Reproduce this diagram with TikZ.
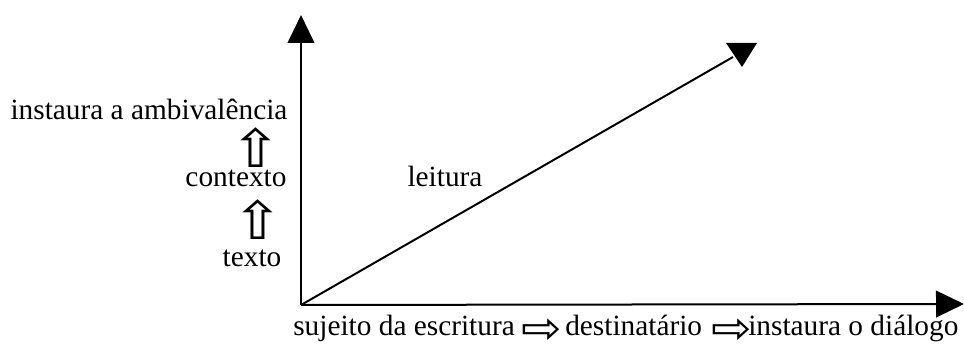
\documentclass[tikz,border=0pt]{standalone}
\usepackage{fontspec}
\setmainfont{Liberation Serif}
\newfontfamily\setafont{DejaVu Sans}
\usetikzlibrary{arrows.meta, positioning}
\tikzset{> = { Triangle[length = 21pt, width = 20pt] }}
\newcommand{\setadir}{\scalebox{1.65}[1.5]{⇨}}
\newcommand{\setacima}{\scalebox{1.9}[1.65]{⇧}}

\begin{document}
\begin{tikzpicture}[x = 0.75pt, y = -0.75pt,
		txt/.style = {font = \fontsize{22}{26}\selectfont, inner sep = 0pt},
		cima/.style = {font = \setafont\fontsize{24}{24}\selectfont, inner sep = 0pt},
		seta/.style = {font = \setafont\fontsize{22}{22}\selectfont, inner sep = 0pt},
		eixo/.style = {line width = 1.5pt}]
		\useasboundingbox (0, 0) rectangle (964, 345);

		\coordinate (O) at (301, 305);
		\coordinate (ytip) at (301, 15);
		\coordinate (xtip) at (964, 304);
		\coordinate (lend) at (733, 57);

		\draw [eixo, ->] (O) -- (ytip);
		\draw [eixo, ->] (O) -- (xtip);
		\draw [eixo] (O) -- (lend);
		\fill (726, 43) -- (757, 43) -- (742, 67) -- cycle;

		\node [txt, anchor = base] (ambiv) at (149, 120) {instaura a ambivalência};
		\node [cima] (up1) at (256, 148) {\setacima};
		\node [txt, anchor = base] (contexto) at (236, 187) {contexto};
		\node [cima] (up2) at (258, 220) {\setacima};
		\node [txt, anchor = base] (texto) at (252, 267) {texto};
		\node [txt, anchor = base] (leitura) at (445, 187) {leitura};

		\node [txt, anchor = base west] (sujeito) at (293, 335) {sujeito da escritura};
		\node [seta] (seta1) at (542, 331) {\setadir};
		\node [txt, anchor = base west] (dest) at (565, 335) {destinatário};
		\node [seta] (seta2) at (732, 331) {\setadir};
		\node [txt, anchor = base west] (dialogo) at (748, 335) {instaura o diálogo};
	\end{tikzpicture}
\end{document}
